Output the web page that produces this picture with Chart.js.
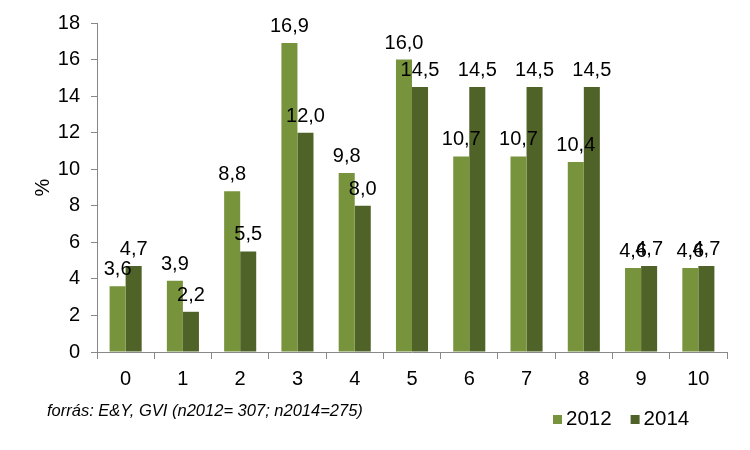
<!DOCTYPE html>
<html>
<head>
<meta charset="utf-8">
<script src="https://cdn.jsdelivr.net/npm/chart.js@4/dist/chart.umd.min.js"></script>
<style>
  html, body { margin: 0; padding: 0; background: #fff; }
  #wrap { width: 750px; height: 450px; position: relative; }
</style>
</head>
<body>
<div id="wrap"><canvas id="c" width="750" height="450"></canvas></div>
<script>
const categories = ['0','1','2','3','4','5','6','7','8','9','10'];
const values2012 = [3.6, 3.9, 8.8, 16.9, 9.8, 16.0, 10.7, 10.7, 10.4, 4.6, 4.6];
const values2014 = [4.7, 2.2, 5.5, 12.0, 8.0, 14.5, 14.5, 14.5, 14.5, 4.7, 4.7];
const seriesNames = ['2012', '2014'];
const yTicks = [0, 2, 4, 6, 8, 10, 12, 14, 16, 18];
const sourceNote = 'forrás: E&Y, GVI (n2012= 307; n2014=275)';
const yTitle = '%';

const FONT = '"Liberation Sans", Arial, sans-serif';
const colors = ['#77933C', '#4F6228'];

const labelPlugin = {
  id: 'valueLabels',
  afterDatasetsDraw(chart) {
    const ctx = chart.ctx;
    ctx.save();
    ctx.font = '20px ' + FONT;
    ctx.fillStyle = '#000';
    ctx.textAlign = 'center';
    ctx.textBaseline = 'alphabetic';
    chart.data.datasets.forEach((ds, di) => {
      const meta = chart.getDatasetMeta(di);
      meta.data.forEach((bar, i) => {
        const txt = ds.data[i].toFixed(1).replace('.', ',');
        ctx.fillText(txt, bar.x, bar.y - 11);
      });
    });
    ctx.restore();
  }
};

const footerPlugin = {
  id: 'footer',
  afterDraw(chart) {
    const ctx = chart.ctx;
    ctx.save();
    ctx.fillStyle = '#000';
    ctx.textBaseline = 'middle';
    ctx.textAlign = 'left';
    ctx.font = 'italic 16.5px ' + FONT;
    ctx.fillText(sourceNote, 47, 411);
    // legend
    ctx.font = '20.5px ' + FONT;
    let x = 553;
    chart.data.datasets.forEach((ds, di) => {
      ctx.fillStyle = ds.backgroundColor;
      ctx.fillRect(x, 415, 9, 9);
      ctx.fillStyle = '#000';
      ctx.fillText(ds.label, x + 13, 419);
      x += 13 + ctx.measureText(ds.label).width + 19;
    });
    ctx.restore();
  }
};

new Chart(document.getElementById('c'), {
  type: 'bar',
  data: {
    labels: categories,
    datasets: [
      { label: seriesNames[0], data: values2012, backgroundColor: colors[0] },
      { label: seriesNames[1], data: values2014, backgroundColor: colors[1] }
    ]
  },
  options: {
    responsive: false,
    animation: false,
    devicePixelRatio: 1,
    layout: { padding: { left: 31, right: 23, top: 19, bottom: 51 } },
    categoryPercentage: 0.56,
    barPercentage: 1.0,
    plugins: {
      legend: { display: false },
      tooltip: { enabled: false }
    },
    scales: {
      x: {
        grid: { drawOnChartArea: false, drawTicks: true, tickLength: 7, color: '#888', offset: true },
        border: { color: '#888', width: 1 },
        ticks: { color: '#000', font: { size: 20, family: FONT }, padding: 8 }
      },
      y: {
        min: 0, max: 18,
        afterBuildTicks(axis) { axis.ticks = yTicks.map(v => ({ value: v })); },
        afterFit(axis) { axis.width = 66; },
        grid: { drawOnChartArea: false, drawTicks: true, tickLength: 6, color: '#888' },
        border: { color: '#888', width: 1 },
        ticks: { color: '#000', font: { size: 20, family: FONT }, padding: 11 },
        title: { display: true, text: yTitle, color: '#000', font: { size: 20, family: FONT }, padding: { top: 0, bottom: 1 } }
      }
    }
  },
  plugins: [labelPlugin, footerPlugin]
});
</script>
</body>
</html>
